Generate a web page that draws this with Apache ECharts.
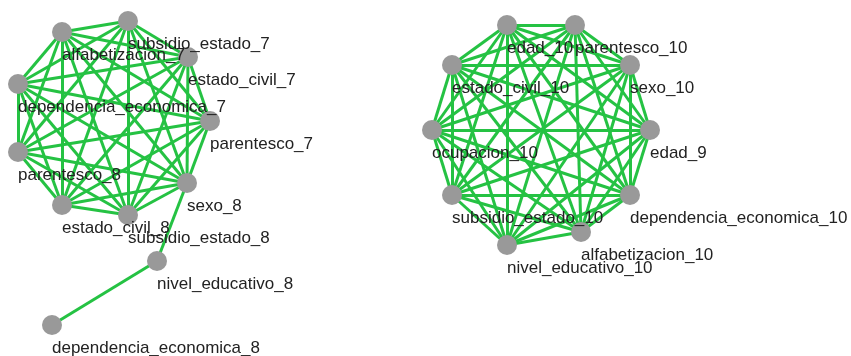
<!DOCTYPE html>
<html><head><meta charset="utf-8">
<script src="https://cdn.jsdelivr.net/npm/echarts@6/dist/echarts.min.js"></script>
<style>html,body{margin:0;padding:0;background:#fff}#c{width:851px;height:356px}</style>
</head><body><div id="c"></div>
<script>
var nodeNames = ["subsidio_estado_7","alfabetizacion_7","estado_civil_7","dependencia_economica_7","parentesco_7","parentesco_8","sexo_8","estado_civil_8","subsidio_estado_8","nivel_educativo_8","dependencia_economica_8",
  "edad_10","parentesco_10","estado_civil_10","sexo_10","ocupacion_10","edad_9","subsidio_estado_10","dependencia_economica_10","nivel_educativo_10","alfabetizacion_10"];
var nodeX = [128,62,188,18,210,18,187,62,128,157,52, 507,575,452,630,432,650,452,630,507,581];
var nodeY = [21,32,57,84,121,152,183,205,215,261,325, 25,25,65,65,130,130,195,195,245,232];
var cliqueLeft = ["subsidio_estado_7","alfabetizacion_7","estado_civil_7","dependencia_economica_7","parentesco_7","parentesco_8","sexo_8","estado_civil_8","subsidio_estado_8"];
var cliqueRight = ["edad_10","parentesco_10","estado_civil_10","sexo_10","ocupacion_10","edad_9","subsidio_estado_10","dependencia_economica_10","nivel_educativo_10","alfabetizacion_10"];
var extraEdges = [["sexo_8","nivel_educativo_8"],["nivel_educativo_8","dependencia_economica_8"]];

var links = [];
[cliqueLeft, cliqueRight].forEach(function(g){
  for (var i=0;i<g.length;i++) for (var j=i+1;j<g.length;j++) links.push({source:g[i],target:g[j]});
});
extraEdges.forEach(function(e){links.push({source:e[0],target:e[1]});});

var nodes = nodeNames.map(function(n,i){return {name:n, value:[nodeX[i],nodeY[i]]};});

var chart = echarts.init(document.getElementById('c'));
chart.setOption({
  animation:false,
  backgroundColor:'#fff',
  grid:{left:0,right:0,top:0,bottom:0},
  xAxis:{type:'value',min:0,max:851,show:false},
  yAxis:{type:'value',min:0,max:356,inverse:true,show:false},
  series:[{
    type:'graph',
    layout:'none',
    coordinateSystem:'cartesian2d',
    symbol:'circle',
    symbolSize:20,
    data:nodes,
    links:links,
    itemStyle:{color:'#999999'},
    lineStyle:{color:'#25c243',width:3,opacity:1,curveness:0},
    label:{show:true,position:[10,33],align:'left',verticalAlign:'middle',
      fontFamily:'Liberation Sans, Arial, sans-serif',fontSize:17,color:'#222',
      formatter:function(p){return p.name;}},
    emphasis:{disabled:true}
  }]
});
</script></body></html>
